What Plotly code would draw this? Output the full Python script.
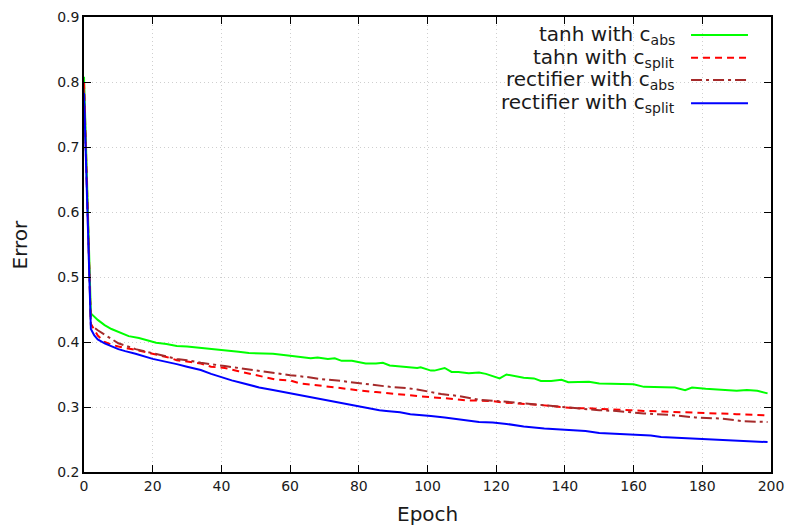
import plotly.graph_objects as go

# ---- data ----
green_x = [0, 2, 4, 6, 8, 10, 13, 16, 18, 21, 24, 27, 30, 34, 37, 41, 45, 48, 51, 55, 60, 63, 66, 68, 71, 73, 75, 78, 82, 85, 87, 89, 93, 97, 98, 101, 102, 105, 107, 109, 112, 115, 117, 119, 121, 123, 126, 128, 131, 133, 136, 139, 141, 144, 147, 150, 155, 160, 163, 168, 172, 175, 177, 181, 186, 190, 193, 196, 199]
green_y = [0.808, 0.444, 0.434, 0.426, 0.420, 0.416, 0.409, 0.406, 0.403, 0.399, 0.397, 0.394, 0.393, 0.391, 0.389, 0.388, 0.385, 0.383, 0.383, 0.382, 0.379, 0.377, 0.375, 0.376, 0.374, 0.375, 0.371, 0.371, 0.367, 0.367, 0.368, 0.364, 0.362, 0.360, 0.361, 0.356, 0.356, 0.360, 0.354, 0.354, 0.352, 0.353, 0.351, 0.347, 0.344, 0.350, 0.347, 0.345, 0.344, 0.340, 0.340, 0.342, 0.338, 0.338, 0.339, 0.336, 0.335, 0.335, 0.331, 0.330, 0.330, 0.326, 0.330, 0.328, 0.326, 0.325, 0.326, 0.325, 0.321]

red_x = [0, 2, 4, 6, 8, 10, 15, 20, 24, 27, 30, 34, 37, 41, 45, 50, 53, 56, 60, 63, 67, 70, 74, 78, 81, 85, 89, 93, 97, 101, 104, 108, 112, 115, 119, 122, 125, 128, 133, 139, 143, 147, 150, 153, 159, 163, 170, 177, 184, 190, 195, 199]
red_y = [0.800, 0.428, 0.410, 0.400, 0.396, 0.393, 0.388, 0.382, 0.377, 0.372, 0.370, 0.367, 0.362, 0.360, 0.355, 0.349, 0.346, 0.342, 0.341, 0.336, 0.334, 0.332, 0.329, 0.327, 0.325, 0.323, 0.321, 0.318, 0.317, 0.315, 0.314, 0.312, 0.310, 0.310, 0.309, 0.307, 0.306, 0.305, 0.303, 0.300, 0.298, 0.298, 0.297, 0.297, 0.295, 0.294, 0.293, 0.292, 0.290, 0.289, 0.288, 0.287]

brown_x = [0, 2, 4, 6, 8, 10, 15, 20, 27, 30, 34, 41, 45, 50, 55, 60, 65, 69, 75, 81, 85, 89, 94, 97, 101, 104, 109, 112, 115, 121, 125, 130, 134, 138, 144, 150, 155, 163, 170, 178, 186, 192, 199]
brown_y = [0.790, 0.426, 0.418, 0.411, 0.404, 0.398, 0.389, 0.383, 0.374, 0.372, 0.368, 0.363, 0.360, 0.356, 0.353, 0.349, 0.346, 0.343, 0.340, 0.336, 0.334, 0.331, 0.329, 0.327, 0.323, 0.320, 0.317, 0.314, 0.311, 0.309, 0.307, 0.305, 0.303, 0.300, 0.298, 0.295, 0.294, 0.290, 0.288, 0.284, 0.282, 0.278, 0.277]

blue_x = [0, 2, 3, 4, 6, 8, 10, 12, 15, 20, 24, 27, 30, 34, 37, 41, 43, 46, 48, 51, 55, 60, 64, 69, 75, 80, 83, 86, 88, 92, 95, 98, 101, 105, 109, 112, 115, 119, 123, 128, 131, 134, 140, 146, 150, 155, 160, 165, 168, 175, 180, 183, 190, 195, 199]
blue_y = [0.783, 0.420, 0.410, 0.404, 0.398, 0.393, 0.389, 0.386, 0.382, 0.374, 0.370, 0.366, 0.362, 0.357, 0.351, 0.344, 0.341, 0.337, 0.334, 0.330, 0.326, 0.321, 0.316, 0.311, 0.306, 0.300, 0.298, 0.295, 0.294, 0.292, 0.289, 0.287, 0.286, 0.284, 0.281, 0.279, 0.277, 0.276, 0.274, 0.270, 0.268, 0.267, 0.265, 0.263, 0.260, 0.259, 0.257, 0.256, 0.254, 0.252, 0.251, 0.250, 0.248, 0.247, 0.246]

x_ticks = [0, 20, 40, 60, 80, 100, 120, 140, 160, 180, 200]
y_ticks = [0.2, 0.3, 0.4, 0.5, 0.6, 0.7, 0.8, 0.9]

names = ["tanh with c<sub>abs</sub>", "tahn with c<sub>split</sub>",
         "rectifier with c<sub>abs</sub>", "rectifier with c<sub>split</sub>"]
colors = ["#00ff00", "#ff0000", "#a52a2a", "#0000ff"]
dashes = ["solid", "7px,5px", "11px,4px,3px,4px", "solid"]

FONT = "DejaVu Sans"
TXT = "#1a1a1a"
fig = go.Figure()
series = [(green_x, green_y), (red_x, red_y), (brown_x, brown_y), (blue_x, blue_y)]
for (xs, ys), nm, c, d in zip(series, names, colors, dashes):
    fig.add_trace(go.Scatter(x=xs, y=ys, mode="lines", name=nm,
                             line=dict(color=c, width=2, dash=d), showlegend=False))

# manual gnuplot-style legend: text right-aligned, sample on the right
row_y = [0.9604, 0.9105, 0.8615, 0.8103]
for nm, c, d, yy in zip(names, colors, dashes, row_y):
    fig.add_shape(type="line", xref="paper", yref="paper", x0=0.8836, x1=0.9665,
                  y0=yy, y1=yy, line=dict(color=c, width=2, dash=d))
    fig.add_annotation(xref="paper", yref="paper", x=0.8632, y=yy, text=nm,
                       showarrow=False, xanchor="right", yanchor="middle",
                       font=dict(family=FONT, size=20, color=TXT))

# axis titles
fig.add_annotation(xref="paper", yref="paper", x=0.5, y=-0.0923, text="Epoch",
                   showarrow=False, xanchor="center", yanchor="middle",
                   font=dict(family=FONT, size=20, color=TXT))
fig.add_annotation(xref="paper", yref="paper", x=-0.0932, y=0.5, text="Error",
                   showarrow=False, xanchor="center", yanchor="middle", textangle=-90,
                   font=dict(family=FONT, size=20, color=TXT))

axis_common = dict(showline=True, linecolor="black", linewidth=1.5, mirror="ticks",
                   ticks="inside", ticklen=7, tickwidth=1, tickcolor="black",
                   showgrid=True, gridcolor="#cfcfcf", griddash="1px,3px", gridwidth=1,
                   zeroline=False, automargin=False,
                   tickfont=dict(family=FONT, size=14, color=TXT))

fig.update_layout(
    width=787, height=526,
    margin=dict(l=84, r=16, t=17, b=54),
    plot_bgcolor="white", paper_bgcolor="white",
    xaxis=dict(range=[0, 200], tickvals=x_ticks, **axis_common),
    yaxis=dict(range=[0.2, 0.9], tickvals=y_ticks, tickformat=".1f", **axis_common),
)

fig.write_html("out.html")
